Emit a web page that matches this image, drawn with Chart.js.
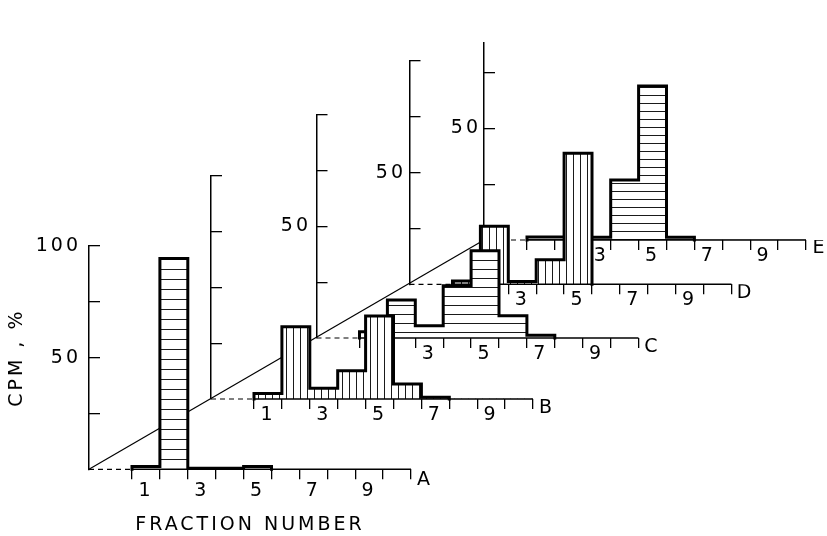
<!DOCTYPE html>
<html>
<head>
<meta charset="utf-8">
<script src="https://cdn.jsdelivr.net/npm/chart.js@4/dist/chart.umd.min.js"></script>
<style>
  html, body { margin: 0; padding: 0; background: #fff; }
  #stage { position: relative; width: 827px; height: 536px; overflow: hidden; background: #fff; }
  #stage canvas { position: absolute; left: 0; top: 0; }
</style>
</head>
<body>
<div id="stage"></div>
<script>
// Fractions collected from each run (A-E), radioactivity as % of total CPM
const fractions = [1, 2, 3, 4, 5, 6, 7, 8, 9, 10];
const runA = [1.2, 94.5, 0.5, 0.5, 1.3, 0, 0, 0, 0, 0];
const runB = [2.5, 32.4, 4.8, 12.7, 37.2, 6.7, 0.8, 0, 0, 0];
const runC = [2.8, 17.0, 5.5, 23.4, 39.1, 10.0, 1.2, 0, 0, 0];
const runD = [1.5, 26.0, 1.3, 11.0, 58.7, 0, 0, 0, 0, 0];
const runE = [1.3, 1.3, 1.2, 26.9, 69.0, 1.2, 0, 0, 0, 0];
const runNames = ['A', 'B', 'C', 'D', 'E'];

// Labels under the fraction boundaries (odd fraction numbers, centred in their bin)
const fractionTickLabels = ['1', '', '3', '', '5', '', '7', '', '9', ''];
const fractionTickLabelsE = ['', '', ' 3', '', '5', '', '7', '', '9', ''];
// CPM axis ticks and their labels
const cpmTicks = [25, 50, 75, 100];
const cpmTickLabelsA = ['', '50', '', '100'];
const cpmTickLabelsB = ['', '', '', ''];
const cpmTickLabelsBack = ['', '50', '', ''];
const yTitle = 'CPM , %';
const xTitle = 'FRACTION NUMBER';

const runs = [runA, runB, runC, runD, runE];
const xLabelSets = [fractionTickLabels, fractionTickLabels, fractionTickLabels, fractionTickLabels, fractionTickLabelsE];
const yLabelSets = [cpmTickLabelsA, cpmTickLabelsB, cpmTickLabelsBack, cpmTickLabelsBack, cpmTickLabelsBack];

// ---- layout of the staggered panels ----
const W = 827, H = 536;
const PX_PER_PCT = 2.232;   // vertical scale, identical for every panel
const BIN_PX = 27.9;        // width of one fraction
const LEAD_PX = 43;         // dashed lead-in from the CPM axis to fraction 1
const FONT = 'DejaVu Sans';
const FONT_SIZE = 19;
const panelLayout = [
  { ox: 89,    by: 469.3, yMax: 100,  hatch: 'h', step: 10, numOff: 21.5, letOff: 10.5, yPad: 19 },
  { ox: 211,   by: 399,   yMax: 100,  hatch: 'v', step: 7,  numOff: 16.5, letOff: 9.5,  yPad: 16 },
  { ox: 316.5, by: 338,   yMax: 100,  hatch: 'h', step: 9,  numOff: 16.5, letOff: 9,    yPad: 16.5 },
  { ox: 409.5, by: 284.3, yMax: 100,  hatch: 'v', step: 7,  numOff: 16,   letOff: 9,    yPad: 14.5 },
  { ox: 484,   by: 240,   yMax: 88.5, hatch: 'h', step: 8,  numOff: 16,   letOff: 8.5,  yPad: 14 }
];

// white fill with thin hatch lines
function hatchPattern(dir, step) {
  const c = document.createElement('canvas');
  c.width = dir === 'h' ? 8 : step;
  c.height = dir === 'h' ? step : 8;
  const g = c.getContext('2d');
  g.fillStyle = '#fff';
  g.fillRect(0, 0, c.width, c.height);
  g.fillStyle = '#1a1a1a';
  if (dir === 'h') g.fillRect(0, step - 1, c.width, 1);
  else g.fillRect(step - 1, 0, 1, c.height);
  return g.createPattern(c, 'repeat');
}

const letterSpacing = {
  id: 'letterSpacing',
  beforeDraw(chart) { chart.ctx.letterSpacing = '3px'; }
};

// slanted base line joining the origins of the front and back panels
const depthLine = {
  id: 'depthLine',
  beforeDatasetsDraw(chart) {
    const xs = chart.scales.x, ys = chart.scales.y;
    const front = panelLayout[0];
    const ctx = chart.ctx;
    ctx.save();
    ctx.strokeStyle = '#000';
    ctx.lineWidth = 1.2;
    ctx.beginPath();
    ctx.moveTo(front.ox, front.by);
    ctx.lineTo(xs.getPixelForValue(xs.min), ys.getPixelForValue(0));
    ctx.stroke();
    ctx.restore();
  }
};

const stage = document.getElementById('stage');

function makePanel(i) {
  const L = panelLayout[i];
  const values = runs[i];
  const front = i === 0;
  const nBins = fractions.length;
  const xMin = -LEAD_PX / BIN_PX;
  const areaRight = L.ox + LEAD_PX + nBins * BIN_PX;
  const areaTop = L.by - L.yMax * PX_PER_PCT;
  const yW = front ? L.ox : 70;
  const xH = front ? H - L.by : 30;

  const canvas = document.createElement('canvas');
  canvas.width = W; canvas.height = H;
  stage.appendChild(canvas);

  // histogram outline (stepped), ending at the last non-empty fraction
  let last = values.length;
  while (last > 0 && values[last - 1] === 0) last--;
  const outline = [{ x: 0, y: 0 }];
  for (let k = 0; k < last; k++) outline.push({ x: fractions[k] - 1, y: values[k] });
  outline.push({ x: last, y: 0 });

  const boundaries = [0].concat(fractions);
  const yTicks = cpmTicks.filter(v => v <= L.yMax);
  const xLabels = xLabelSets[i];
  const yLabels = yLabelSets[i];
  const numLH = 2 * (L.numOff - 8);
  const letLH = 2 * (L.letOff - 8);

  return new Chart(canvas, {
    type: 'bar',
    data: {
      datasets: [
        { type: 'line', data: outline, stepped: 'before', borderColor: '#000', borderWidth: 3,
          borderJoinStyle: 'miter', borderCapStyle: 'square', pointRadius: 0, fill: false, clip: false, order: 0 },
        { type: 'line', data: [{ x: xMin, y: 0 }, { x: 0, y: 0 }], borderColor: '#000', borderWidth: 1.2,
          borderDash: [5, 4], pointRadius: 0, fill: false, clip: false, order: 1 },
        { type: 'line', data: [{ x: 0, y: 0 }, { x: nBins, y: 0 }], borderColor: '#000', borderWidth: 1.4,
          pointRadius: 0, fill: false, clip: false, order: 1 },
        { type: 'bar', data: values.map((v, k) => ({ x: fractions[k] - 0.5, y: v })),
          backgroundColor: hatchPattern(L.hatch, L.step), borderWidth: 0,
          barPercentage: 1, categoryPercentage: 1, order: 2 }
      ]
    },
    options: {
      responsive: false,
      animation: false,
      devicePixelRatio: 1,
      events: [],
      layout: { padding: { left: L.ox - yW, right: W - areaRight, top: areaTop, bottom: H - L.by - xH } },
      plugins: { legend: { display: false }, tooltip: { enabled: false } },
      scales: {
        x: {
          type: 'linear', min: xMin, max: nBins, offset: false,
          afterFit: s => { s.height = xH; },
          afterBuildTicks: s => { s.ticks = boundaries.map(v => ({ value: v })); },
          border: { display: false },
          grid: { drawOnChartArea: false, offset: false, tickLength: 10, color: '#000', lineWidth: 1.3 },
          ticks: {
            autoSkip: false, maxRotation: 0, minRotation: 0, padding: -2,
            labelOffset: BIN_PX / 2, color: '#000',
            font: c => ({ family: FONT, size: FONT_SIZE, lineHeight: (c.index === nBins ? letLH : numLH) + 'px' }),
            callback: (v, idx) => idx === nBins ? runNames[i] : xLabels[idx]
          },
          title: front ? { display: true, text: xTitle, color: '#000', font: { family: FONT, size: FONT_SIZE, lineHeight: 1.2 },
                           padding: { top: 0, bottom: 0 } } : { display: false }
        },
        y: {
          type: 'linear', min: 0, max: L.yMax,
          afterFit: s => { s.width = yW; },
          afterBuildTicks: s => { s.ticks = yTicks.map(v => ({ value: v })); },
          border: { display: true, color: '#000', width: 1.5 },
          grid: { drawOnChartArea: false, tickLength: -11, color: '#000', lineWidth: 1.3 },
          ticks: {
            padding: L.yPad, color: '#000', font: { family: FONT, size: FONT_SIZE },
            callback: v => yLabels[cpmTicks.indexOf(v)]
          },
          title: front ? { display: true, text: yTitle, color: '#000', font: { family: FONT, size: FONT_SIZE, lineHeight: 1.2 },
                           padding: { top: 6, bottom: 0 } } : { display: false }
        }
      }
    },
    plugins: i === runs.length - 1 ? [letterSpacing, depthLine] : [letterSpacing]
  });
}

// back panel first so that the front histograms hide what lies behind them
for (let i = runs.length - 1; i >= 0; i--) makePanel(i);
</script>
</body>
</html>
